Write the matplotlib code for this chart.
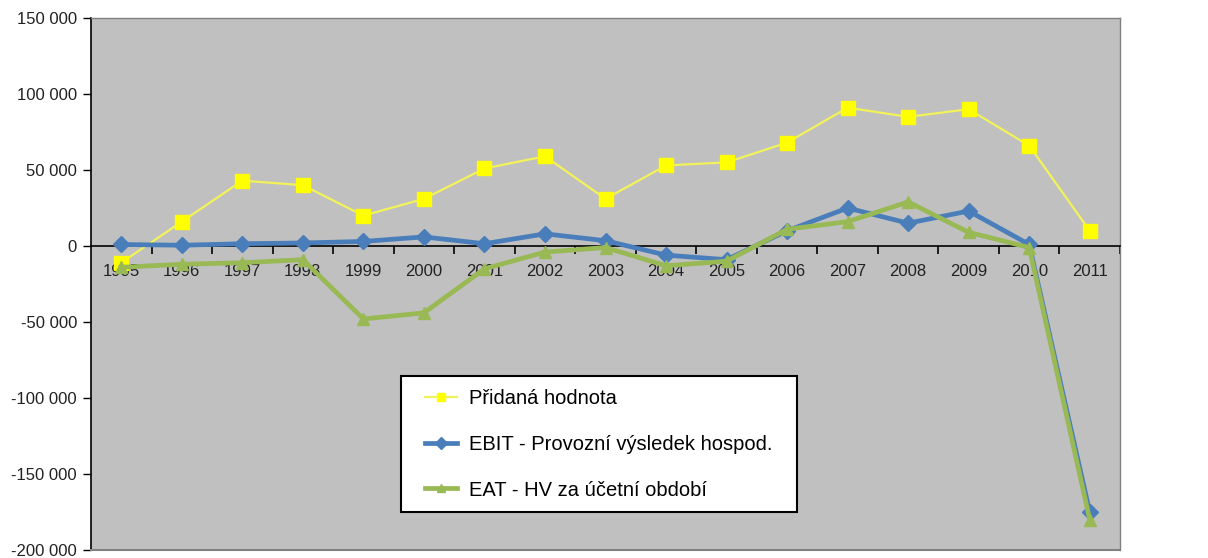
import matplotlib
matplotlib.use("Agg")
import matplotlib.pyplot as plt
from matplotlib.ticker import FixedLocator, FuncFormatter
from matplotlib.patches import Rectangle

years = [str(y) for y in range(1995, 2012)]
pridana_hodnota = [-11000, 16000, 43000, 40000, 20000, 31000, 51000, 59000, 31000,
                   53000, 55000, 68000, 91000, 85000, 90000, 66000, 10000]
ebit = [1000, 500, 1500, 2000, 3000, 6000, 1500, 8000, 3500,
        -6000, -9000, 10000, 25000, 15000, 23000, 1000, -175000]
eat = [-14000, -12000, -11000, -9000, -48000, -44000, -15000, -4000, -1000,
       -13000, -10000, 11000, 16000, 29000, 9000, -1000, -180000]
labels = ["Přidaná hodnota", "EBIT - Provozní výsledek hospod.", "EAT - HV za účetní období"]
y_ticks = [-200000, -150000, -100000, -50000, 0, 50000, 100000, 150000]

plt.rcParams['font.family'] = ['Liberation Sans', 'DejaVu Sans']

fig = plt.figure(figsize=(12.08, 5.58), dpi=100)
ax = fig.add_axes([91 / 1208, 1 - 550 / 558, 1029 / 1208, 532 / 558])
ax.set_facecolor('#C0C0C0')

x = list(range(len(years)))
ax.plot(x, pridana_hodnota, color='#F2F25A', lw=1.6, marker='s', ms=9.5,
        mfc='#FFFF00', mec='#FFFF00', label=labels[0], zorder=3)
ax.plot(x, ebit, color='#4A7EBB', lw=3.4, marker='D', ms=8,
        mfc='#4A7EBB', mec='#4A7EBB', label=labels[1], zorder=4)
ax.plot(x, eat, color='#98B954', lw=3.4, marker='^', ms=9,
        mfc='#98B954', mec='#98B954', label=labels[2], zorder=5)

ax.set_xlim(-0.5, len(years) - 0.5)
ax.set_ylim(-200000, 150000)

# y axis
ax.yaxis.set_major_locator(FixedLocator(y_ticks))
ax.yaxis.set_major_formatter(FuncFormatter(lambda v, p: f"{int(v):,}".replace(",", " ")))
ax.tick_params(axis='y', direction='out', length=6, width=1, colors='black',
               labelsize=12, pad=4, labelcolor='#222222')

# x axis at zero
ax.spines['bottom'].set_position(('data', 0))
ax.spines['bottom'].set_color('black')
ax.spines['bottom'].set_linewidth(1.2)
ax.spines['left'].set_color('black')
ax.spines['left'].set_linewidth(1.2)
for s in ('top', 'right'):
    ax.spines[s].set_color('#808080')
    ax.spines[s].set_linewidth(1.0)
ax.plot([0, 1], [0, 0], transform=ax.transAxes, color='#808080', lw=1.5,
        clip_on=False, zorder=6)

ax.set_xticks(x)
ax.set_xticklabels(years)
ax.set_xticks([i + 0.5 for i in range(len(years))], minor=True)
ax.tick_params(axis='x', which='major', length=0, labelsize=12, pad=13, labelcolor='#222222')
ax.tick_params(axis='x', which='minor', direction='out', length=6, width=1.2, color='black')

# legend box
box = Rectangle((0.3013, 0.0714), 0.3848, 0.2556, transform=ax.transAxes,
                facecolor='white', edgecolor='black', lw=1.5, zorder=8)
ax.add_patch(box)
leg = ax.legend(loc='upper left', bbox_to_anchor=(0.3246, 0.3027), fontsize=14.5,
                frameon=False, labelspacing=1.33, handlelength=1.6,
                handletextpad=0.58, borderpad=0, borderaxespad=0)
leg.set_zorder(9)
for h in leg.legend_handles:
    h.set_markersize(6)

fig.savefig('out.png', dpi=100, facecolor='white')
